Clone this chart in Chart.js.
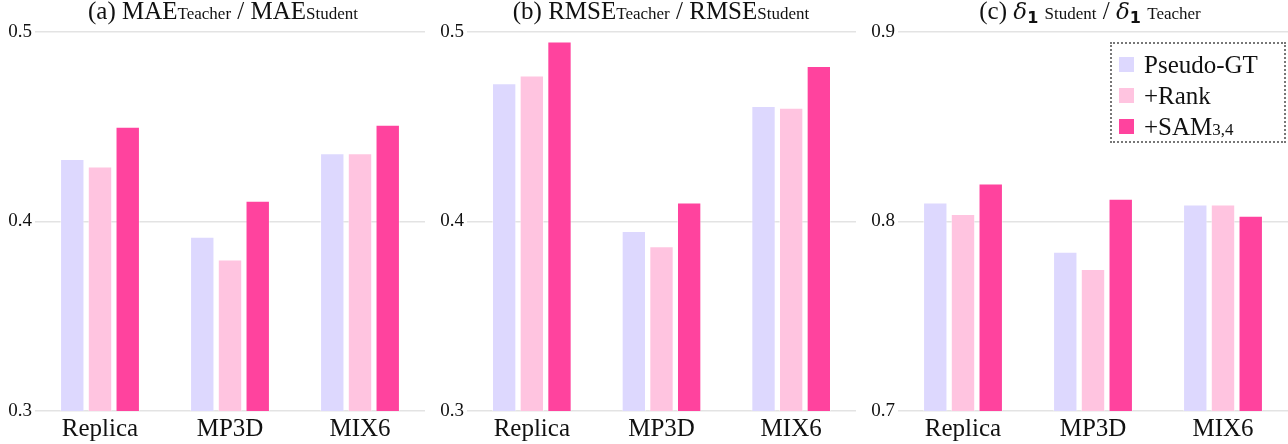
<!DOCTYPE html>
<html>
<head>
<meta charset="utf-8">
<script src="https://cdn.jsdelivr.net/npm/chart.js@4/dist/chart.umd.min.js"></script>
<style>
  body { margin: 0; background: #fff; width: 1288px; height: 444px; overflow: hidden; position: relative; font-family: "Liberation Serif", serif; color: #111; }
  .panel { position: absolute; top: 0; height: 444px; }
  .title { position: absolute; top: -3px; font-size: 25px; white-space: nowrap; transform: translateX(-50%); }
  .title small { font-size: 17px; }
  .title i { font-family: "DejaVu Serif", serif; font-size: 23px; }
  .title b { font-family: "DejaVu Sans", sans-serif; font-size: 16px; position: relative; top: 4px; }
  #legend { position: absolute; left: 1110px; top: 42px; width: 176px; height: 101px; border: 2px dotted #777; box-sizing: border-box; }
  .item { position: absolute; left: 7px; font-size: 25px; line-height: 25px; white-space: nowrap; }
  .item span.sw { position: absolute; left: 0; top: 5px; width: 15px; height: 15px; }
  .item span.tx { position: absolute; left: 25px; top: 0; }
  .item small { font-size: 17px; }
</style>
</head>
<body>
<div class="panel" style="left:0;width:430px"><canvas id="chartA"></canvas></div>
<div class="panel" style="left:430px;width:430px"><canvas id="chartB"></canvas></div>
<div class="panel" style="left:860px;width:428px"><canvas id="chartC"></canvas></div>

<div class="title" style="left:223px">(a) MAE<small>Teacher</small> / MAE<small>Student</small></div>
<div class="title" style="left:661px">(b) RMSE<small>Teacher</small> / RMSE<small>Student</small></div>
<div class="title" style="left:1090px">(c) <i>δ</i><b>1</b> <small>Student</small> / <i>δ</i><b>1</b> <small>Teacher</small></div>

<div id="legend"></div>

<script>
var categories = ['Replica', 'MP3D', 'MIX6'];
var seriesNames = ['Pseudo-GT', '+Rank', '+SAM<small>3,4</small>'];
var seriesColors = ['#ddd8fe', '#ffc4e0', '#ff439e'];

// (a) MAE teacher / MAE student
var maePseudo = [0.433, 0.392, 0.436];
var maeRank   = [0.429, 0.380, 0.436];
var maeSam    = [0.450, 0.411, 0.451];

// (b) RMSE teacher / RMSE student
var rmsePseudo = [0.473, 0.395, 0.461];
var rmseRank   = [0.477, 0.387, 0.460];
var rmseSam    = [0.495, 0.410, 0.482];

// (c) delta1 student / delta1 teacher
var deltaPseudo = [0.810, 0.784, 0.809];
var deltaRank   = [0.804, 0.775, 0.809];
var deltaSam    = [0.820, 0.812, 0.803];

var yRangeA = [0.3, 0.5];
var yRangeB = [0.3, 0.5];
var yRangeC = [0.7, 0.9];

function makeChart(id, values, range, leftWidth, rightPad) {
    var datasets = [];
    for (var i = 0; i < values.length; i++) {
        datasets.push({
            label: seriesNames[i],
            data: values[i],
            backgroundColor: seriesColors[i],
            borderColor: 'rgba(255,255,255,0.45)',
            borderWidth: 1,
            categoryPercentage: 0.64,
            barPercentage: 0.88
        });
    }
    return new Chart(document.getElementById(id), {
        type: 'bar',
        data: { labels: categories, datasets: datasets },
        options: {
            responsive: false,
            animation: false,
            devicePixelRatio: 1,
            layout: { padding: { top: 32, right: rightPad, left: 0, bottom: 0 } },
            plugins: { legend: { display: false }, tooltip: { enabled: false } },
            scales: {
                x: {
                    grid: { display: false },
                    border: { display: false },
                    ticks: { color: '#111', font: { family: 'Liberation Serif', size: 25 }, padding: -5 },
                    afterFit: function (s) { s.height = 33; }
                },
                y: {
                    min: range[0],
                    max: range[1],
                    ticks: { stepSize: 0.1, color: '#111', font: { family: 'Liberation Serif', size: 19 }, padding: 3,
                             callback: function (v) { return v.toFixed(1); } },
                    grid: { color: '#e3e3e3', lineWidth: 1.5, drawTicks: false },
                    border: { display: false },
                    afterFit: function (s) { s.width = leftWidth; }
                }
            }
        }
    });
}

function sizeCanvas(id, w) {
    var c = document.getElementById(id);
    c.width = w; c.height = 444;
    c.style.width = w + 'px'; c.style.height = '444px';
}
sizeCanvas('chartA', 430);
sizeCanvas('chartB', 430);
sizeCanvas('chartC', 428);

makeChart('chartA', [maePseudo, maeRank, maeSam], yRangeA, 35, 5);
makeChart('chartB', [rmsePseudo, rmseRank, rmseSam], yRangeB, 37, 4);
makeChart('chartC', [deltaPseudo, deltaRank, deltaSam], yRangeC, 38, 0);

var legend = document.getElementById('legend');
for (var i = 0; i < seriesNames.length; i++) {
    var row = document.createElement('div');
    row.className = 'item';
    row.style.top = (8 + i * 31) + 'px';
    row.innerHTML = '<span class="sw" style="background:' + seriesColors[i] + '"></span><span class="tx">' + seriesNames[i] + '</span>';
    legend.appendChild(row);
}
</script>
</body>
</html>
